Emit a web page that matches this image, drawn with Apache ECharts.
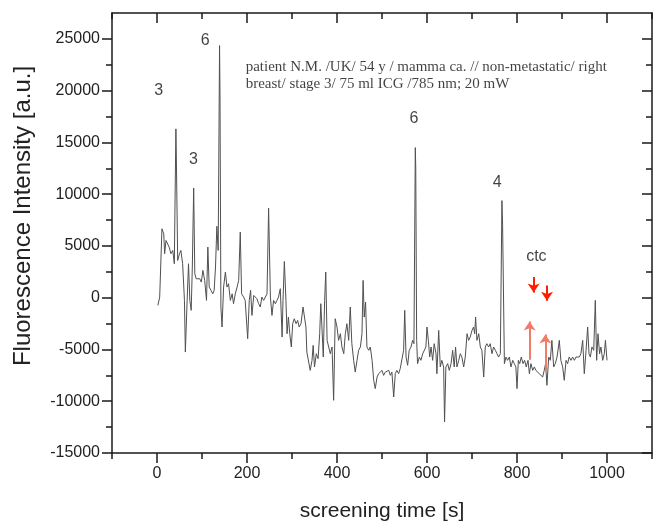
<!DOCTYPE html>
<html><head><meta charset="utf-8">
<script src="https://cdn.jsdelivr.net/npm/echarts@6/dist/echarts.min.js"></script>
<style>html,body{margin:0;padding:0;background:#fff}#c{width:653px;height:525px}</style>
</head><body><div id="c"></div>
<script>
// screening time [s], fluorescence intensity [a.u.]
const signal = [
[2,-740],[6,60],[11,6660],[15,6180],[17,4250],[20,5530],[24,5370],[27,4890],[31,4250],[35,4570],[38.5,3280],[42,16310],[43,13500],[46,3600],[50,4250],[53,4570],[57,3280],[61,-260],[63,-5250],[67,-260],[70,3280],[73,-260],[76,-1220],[78.5,2960],[81.5,10600],[84,2320],[87,1830],[91,1670],[95,1830],[98.5,1510],[102,2640],[106,1670],[110,-260],[113,4890],[116,1030],[120,710],[124,380],[127,710],[130,2960],[133,6900],[136,4570],[139,24350],[140,19500],[142,-900],[144.5,-2830],[148,1030],[152,2480],[155.5,1030],[159,1350],[163,-260],[167,380],[170,-580],[174,380],[178,1030],[181.5,1670],[185,6330],[188,380],[192.5,60],[196,-260],[201.5,-3960],[205,-260],[208,710],[211,-1710],[215,220],[218.5,60],[222,-100],[226,-580],[229.5,-900],[233,60],[237,-260],[240.5,-100],[244.5,380],[248,8650],[252,60],[255.5,-1710],[259,-260],[263,-580],[266.5,-260],[270,60],[274,870],[278,-3800],[280,-260],[283,3500],[286.5,-260],[289,-3480],[292,-1870],[295,-3480],[298.5,-4760],[301.5,-2510],[305,-2030],[309,-2510],[312.5,-2190],[316,-2830],[320,-2510],[324.5,-900],[328,-740],[331,-2830],[333,-5250],[337,-5080],[340.5,-7020],[344.5,-6050],[347,-4600],[350,-6690],[354,-5410],[358,-5890],[361.5,-3480],[364,-580],[366.5,-2830],[369.5,-5730],[372.5,-260],[375,2480],[378,-4120],[381.5,-4760],[385,-5410],[389,-4760],[392.5,-9910],[396,-2030],[400,-2830],[403.5,-4120],[407.5,-3480],[411,-4760],[415,-5410],[418.5,-3480],[422,-2510],[426,-4120],[429.5,-900],[433,-4440],[437,-6050],[440.5,-7180],[444.5,-6050],[448,-5080],[452,-4760],[455.5,-3480],[458,1670],[460.5,-1870],[463.5,-420],[466.5,-4760],[470.5,-5080],[474,-4760],[478,-6050],[481.5,-7980],[485,-8780],[489,-7660],[492.5,-7340],
[496,-7340],[500,-7020],[503.5,-7500],[507.5,-7180],[511,-7340],[515,-7020],[518.5,-7500],[522,-7180],[526,-9590],[529.5,-7340],[533,-7020],[537,-7340],[540.5,-6850],[544.5,-7020],[548,-5080],[550.5,-1220],[553.5,-5730],[557,-6530],[560.5,-5080],[564.5,-4760],[568,-4120],[571,-4440],[574,14500],[575,12500],[577,-4120],[579,-6370],[583,-5730],[586.5,-6050],[590.5,-5410],[594,-5570],[597.5,-4760],[600,-2830],[603,-4120],[606,-5730],[609,-4760],[612.5,-6050],[616,-4440],[620,-5410],[622,-7340],[626,-3160],[629.5,-6690],[633,-6050],[637,-6690],[639,-12000],[642,-6690],[646,-6370],[649.5,-7020],[653.5,-6370],[657,-5080],[660.5,-6690],[663.5,-4760],[666.5,-6690],[670.5,-6050],[674,-5410],[677.5,-5730],[681.5,-6690],[685,-5730],[689,-3480],[692.5,-4120],[696,-3800],[700,-3160],[703.5,-2830],[706,-3480],[708,-1870],[711,-4120],[715,-3480],[718.5,-4760],[722,-5080],[726,-7660],[729.5,-4760],[733,-4440],[737,-4760],[740.5,-4440],[744.5,-5410],[748,-4760],[752,-5080],[755.5,-5410],[759,-5730],[763,-5410],[766.5,9380],[768,7000],[772,-6370],[775.5,-5730],[779,-6050],[783,-5730],[786.5,-6690],[790.5,-6050],[794,-6370],[797.5,-6690],[800,-8780],[803,-6050],[806,-6370],[809.5,-5730],[813.5,-6370],[817,-6050],[820.5,-6690],[824.5,-6050],[827.5,-7340],[831,-6370],[835,-7020],[838.5,-6690],[842,-7020],[846,-7180],[849.5,-7340],[853.5,-7180],[857,-7660],[860.5,-7020],[863.5,-6370],[866.5,-8460],[870.5,-5730],[874,-6050],[877.5,-4120],[881.5,-6690],[885,-6370],[889,-5730],[894,-4120],[897.5,-6050],[901.5,-6690],[905,-7980],[909,-6050],[912.5,-6370],[916,-5730],[920,-6050],[923.5,-5730],[927.5,-6050],[931,-5730],[935,-5890],[938.5,-5730],[942,-5410],[946,-4120],[949.5,-7340],[953.5,-5080],[957,-2830],[960,-5410],[963,-5730],[966.5,-4760],[970.5,-5080],[974,-260],[977,-6050],[980,-3480],[983.5,-5410],[986.5,-4760],[990.5,-6050],[994,-5410],[996.5,-4120],[1000,-6050]
];
const xMajor = [0,200,400,600,800,1000];
const xMinor = [-100,100,300,500,700,900,1100];
const yMajor = [-15000,-10000,-5000,0,5000,10000,15000,20000,25000];
const yMinor = [-12500,-7500,-2500,2500,7500,12500,17500,22500];
const peakLabels = [['3',3.6,20010],['3',81,13350],['6',107,24840],['6',571,17300],['4',756,11130],['ctc',843,3990]];
const noteLines = ['patient N.M. /UK/ 54 y / mamma ca. // non-metastatic/ right','breast/ stage 3/ 75 ml ICG /785 nm; 20 mW'];
const noteAnchor = [196, 21490];
const arrowsDown = [[837,1990,500],[866.7,1187,-300]];
const arrowsUp = [[828,-6000,-2300],[863,-7017,-3550]];

const FONT = 'Liberation Sans, Arial, sans-serif';
const AX = '#1a1a1a';
const plain = v => String(v);
function xAxisDef(pos, ticks, len, inside, main) {
  return {
    type:'value', position:pos, min:-100, max:1100, interval:100,
    axisLine:{show:main, onZero:false, lineStyle:{color:AX, width:1.5}},
    axisTick:{show:true, customValues:ticks, length:len, inside:inside, lineStyle:{color:AX, width:1.5}},
    axisLabel:{show: main && pos==='bottom', customValues:xMajor, formatter:plain, fontFamily:FONT, fontSize:16, color:'#222', margin:13},
    splitLine:{show:false},
    name: (main && pos==='bottom') ? 'screening time [s]' : '',
    nameLocation:'middle', nameGap:48,
    nameTextStyle:{fontFamily:FONT, fontSize:21, color:'#222'}
  };
}
function yAxisDef(pos, ticks, len, inside, main) {
  return {
    type:'value', position:pos, min:-15000, max:27500, interval:2500,
    axisLine:{show:main, onZero:false, lineStyle:{color:AX, width:1.5}},
    axisTick:{show:true, customValues:ticks, length:len, inside:inside, lineStyle:{color:AX, width:1.5}},
    axisLabel:{show: main && pos==='left', customValues:yMajor, formatter:plain, fontFamily:FONT, fontSize:16, color:'#222', margin:12},
    splitLine:{show:false},
    name: (main && pos==='left') ? 'Fluorescence Intensity [a.u.]' : '',
    nameLocation:'middle', nameGap:77, nameRotate:90,
    nameTextStyle:{fontFamily:FONT, fontSize:24, color:'#222', padding:[0,0,0,34]}
  };
}
function arrowItem(a, color) {
  return [
    {coord:[a[0],a[1]], lineStyle:{color:color, width:2, type:'solid'}, itemStyle:{color:color}},
    {coord:[a[0],a[2]], itemStyle:{color:color}, symbol:'arrow', symbolSize:9}
  ];
}

const chart = echarts.init(document.getElementById('c'), null, {renderer:'canvas'});
chart.setOption({
  animation:false,
  backgroundColor:'#fff',
  grid:{left:112, right:1, top:13, bottom:72, containLabel:false, outerBoundsMode:'none'},
  xAxis:[
    xAxisDef('bottom', xMajor, 10, false, true),
    xAxisDef('bottom', xMinor, 6, false, false),
    xAxisDef('top', xMajor, 10, true, true),
    xAxisDef('top', xMinor, 6, true, false)
  ],
  yAxis:[
    yAxisDef('left', yMajor, 10, false, true),
    yAxisDef('left', yMinor, 6, false, false),
    yAxisDef('right', yMajor, 10, true, true),
    yAxisDef('right', yMinor, 6, true, false)
  ],
  series:[
    {
      type:'line', xAxisIndex:0, yAxisIndex:0, data:signal,
      symbol:'none', smooth:false,
      lineStyle:{color:'#505050', width:1},
      markLine:{
        silent:true, animation:false,
        symbol:['none','arrow'], symbolSize:9,
        label:{show:false},
        data: arrowsDown.map(a => arrowItem(a, '#ff1e00'))
          .concat(arrowsUp.map(a => arrowItem(a, '#f27b68')))
      }
    },
    {
      type:'scatter', xAxisIndex:0, yAxisIndex:0, silent:true,
      symbolSize:1, itemStyle:{color:'rgba(0,0,0,0)'},
      data: peakLabels.map(p => ({name:p[0], value:[p[1], p[2]]})),
      label:{show:true, position:'inside', formatter:'{b}', fontFamily:FONT, fontSize:16, color:'#111'},
      labelLayout:{hideOverlap:false}
    },
    {
      type:'scatter', xAxisIndex:0, yAxisIndex:0, silent:true,
      symbolSize:1, itemStyle:{color:'rgba(0,0,0,0)'},
      data:[{name:'note', value:noteAnchor}],
      label:{show:true, position:'right', distance:0, align:'left', verticalAlign:'middle',
        formatter: noteLines.join('\n'), fontFamily:'Liberation Serif, Times New Roman, serif', fontSize:15, lineHeight:17, color:'#111'}
    }
  ]
});
</script></body></html>
